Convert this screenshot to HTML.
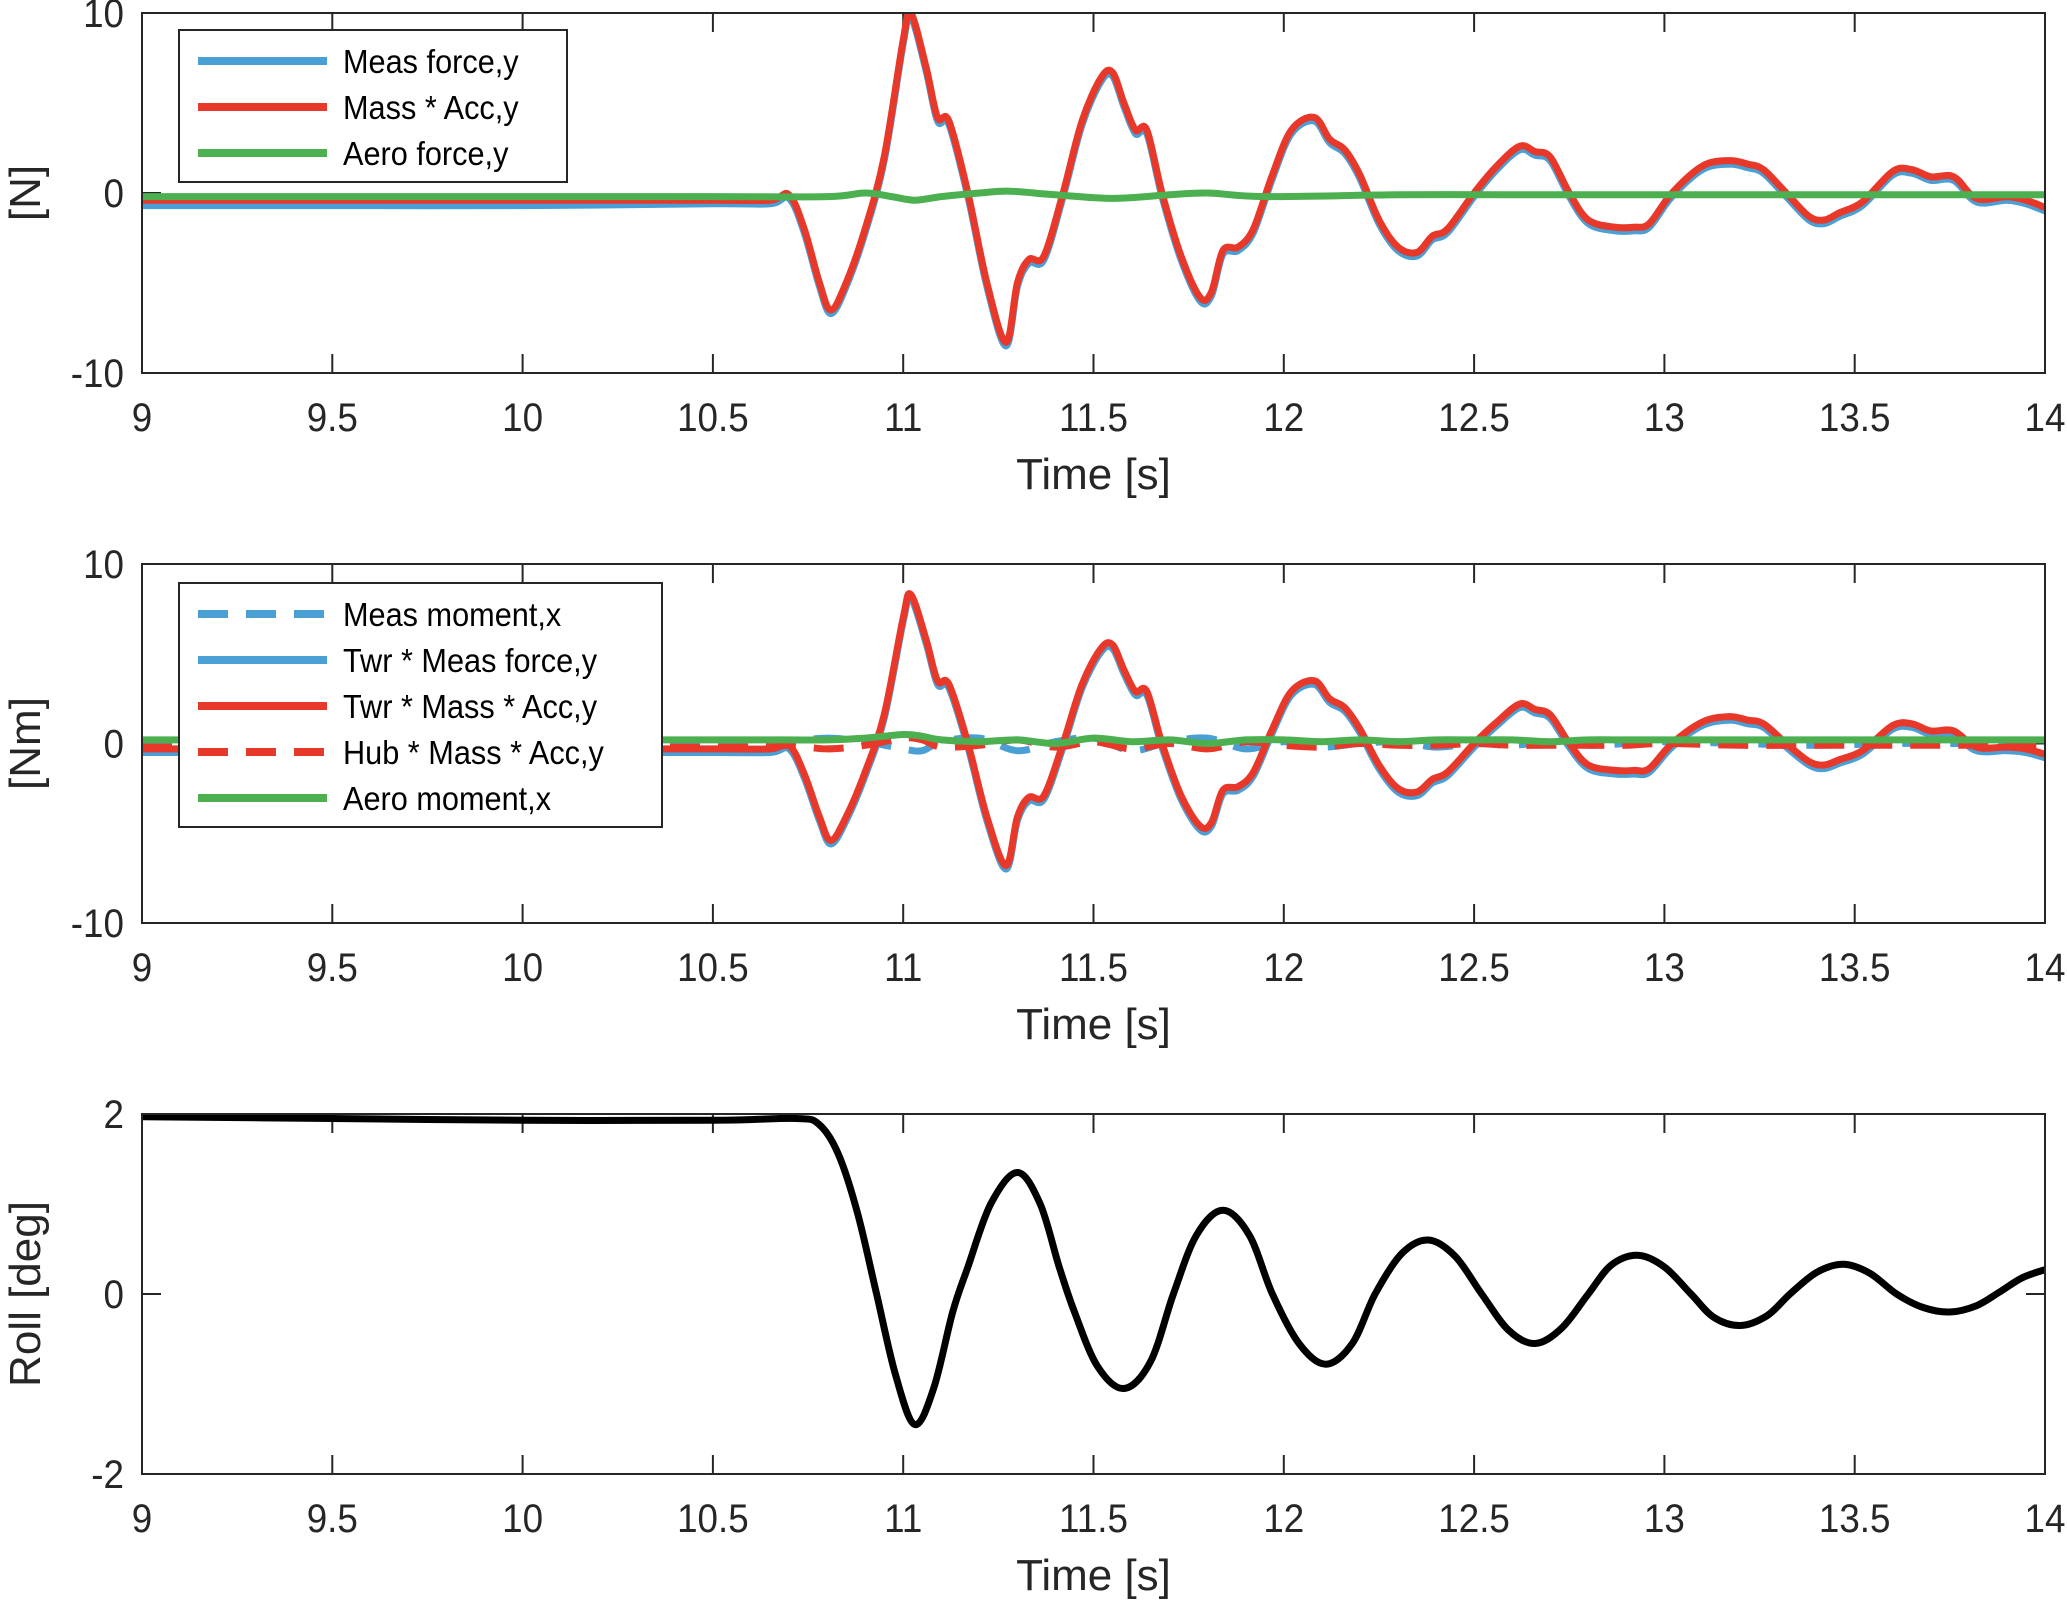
<!DOCTYPE html>
<html><head><meta charset="utf-8"><style>
html,body{margin:0;padding:0;background:#fff;}
svg{display:block;font-family:"Liberation Sans",Arial,sans-serif;}
</style></head><body>
<svg id="fig" width="2067" height="1605" viewBox="0 0 2067 1605" xmlns="http://www.w3.org/2000/svg"></svg>
<script>
// ---- data ----
const xTicks = [9, 9.5, 10, 10.5, 11, 11.5, 12, 12.5, 13, 13.5, 14];
const xTickLabels = ["9","9.5","10","10.5","11","11.5","12","12.5","13","13.5","14"];
const yTicks12 = [-10, 0, 10];
const yTicks3 = [-2, 0, 2];

const tForce = [9,9.5,10,10.5,10.65,10.7,10.74,10.78,10.81,10.85,10.9,10.95,11.0,11.02,11.06,11.09,11.12,11.17,11.22,11.27,11.3,11.33,11.37,11.42,11.47,11.52,11.55,11.58,11.61,11.64,11.68,11.73,11.78,11.81,11.84,11.88,11.92,11.97,12.02,12.08,12.12,12.16,12.2,12.25,12.3,12.35,12.39,12.43,12.5,12.56,12.62,12.66,12.7,12.75,12.8,12.87,12.92,12.96,13.02,13.1,13.17,13.22,13.26,13.32,13.38,13.42,13.46,13.52,13.6,13.65,13.7,13.76,13.82,13.9,13.95,14];
const massAccY = [-0.4,-0.4,-0.4,-0.4,-0.4,-0.1,-2,-5,-6.5,-5,-2,2,8.5,10,7,4.2,4,0,-5,-8.3,-5,-3.7,-3.5,0,4,6.4,6.7,5,3.5,3.5,0,-3.5,-5.8,-5.5,-3.2,-3,-2,1,3.5,4.2,3,2.4,1,-1.5,-3,-3.3,-2.4,-2,0,1.5,2.6,2.3,2,0,-1.5,-1.9,-1.9,-1.7,0,1.5,1.8,1.6,1.3,0,-1.3,-1.5,-1.1,-0.5,1.2,1.3,0.9,0.9,-0.3,-0.2,-0.4,-0.8];
const measForceY = [-0.7,-0.7,-0.7,-0.6,-0.6,-0.3,-2.2,-5.2,-6.7,-5.2,-2.2,1.8,8.3,9.8,6.8,4.0,3.8,-0.2,-5.2,-8.5,-5.2,-3.9,-3.7,-0.2,3.8,6.2,6.5,4.8,3.3,3.3,-0.2,-3.7,-6.0,-5.7,-3.4,-3.2,-2.2,0.8,3.3,4.0,2.8,2.2,0.8,-1.7,-3.2,-3.5,-2.6,-2.2,-0.2,1.3,2.4,2.1,1.8,-0.2,-1.7,-2.1,-2.1,-1.9,-0.2,1.3,1.6,1.4,1.1,-0.2,-1.5,-1.7,-1.3,-0.7,1.0,1.1,0.7,0.7,-0.5,-0.4,-0.6,-1.0];
const tAero = [9,9.5,10,10.5,10.8,10.9,10.97,11.03,11.1,11.2,11.28,11.4,11.55,11.7,11.8,11.95,12.3,12.6,13.0,13.5,14];
const aeroForceY = [-0.2,-0.2,-0.2,-0.2,-0.2,0.0,-0.2,-0.4,-0.2,0.0,0.1,-0.1,-0.3,-0.1,0.0,-0.2,-0.1,-0.1,-0.1,-0.1,-0.1];

const twrMassAccY = [-0.3,-0.3,-0.3,-0.3,-0.3,-0.1,-1.7,-4.1,-5.4,-4.1,-1.6,1.6,7.0,8.3,5.8,3.5,3.3,0,-4.1,-6.8,-4.1,-3.0,-2.9,0,3.3,5.3,5.5,4.1,2.9,2.9,0,-2.9,-4.6,-4.4,-2.6,-2.4,-1.6,0.8,2.9,3.5,2.5,2.0,0.8,-1.2,-2.5,-2.7,-2.0,-1.6,0,1.2,2.2,1.9,1.6,0,-1.2,-1.5,-1.5,-1.4,0,1.2,1.5,1.3,1.1,0,-1.0,-1.2,-0.9,-0.4,1.0,1.1,0.7,0.7,-0.2,-0.2,-0.3,-0.6];
const twrMeasForceY = [-0.5,-0.5,-0.5,-0.5,-0.5,-0.3,-1.9,-4.3,-5.6,-4.3,-1.8,1.4,6.8,8.1,5.6,3.3,3.1,-0.2,-4.3,-7.0,-4.3,-3.2,-3.1,-0.2,3.1,5.1,5.3,3.9,2.7,2.7,-0.2,-3.1,-4.8,-4.6,-2.8,-2.6,-1.8,0.6,2.7,3.3,2.3,1.8,0.6,-1.4,-2.7,-2.9,-2.2,-1.8,-0.2,1.0,2.0,1.7,1.4,-0.2,-1.4,-1.7,-1.7,-1.6,-0.2,1.0,1.3,1.1,0.9,-0.2,-1.2,-1.4,-1.1,-0.6,0.8,0.9,0.5,0.5,-0.4,-0.4,-0.5,-0.8];
const tMom = [9,10,10.6,10.7,10.8,10.9,11.0,11.05,11.1,11.2,11.3,11.4,11.5,11.6,11.7,11.8,11.9,12.0,12.1,12.2,12.3,12.4,12.5,12.6,12.7,12.8,12.9,13.0,13.2,13.4,13.6,13.8,14];
const hubMassAccY = [-0.2,-0.2,-0.2,-0.1,-0.3,-0.1,0.3,0.2,-0.2,-0.1,0.2,-0.2,0.1,-0.3,0.0,-0.3,0.1,-0.1,-0.2,0.0,-0.1,-0.1,0.0,-0.1,-0.1,-0.1,-0.1,0.0,-0.1,-0.1,-0.1,-0.1,-0.1];
const measMomentX = [0.0,0.0,0.0,0.1,0.3,0.1,-0.3,-0.4,0.1,0.3,-0.4,0.1,0.3,-0.4,0.1,0.3,-0.3,0.1,-0.2,0.0,0.1,-0.2,0.0,-0.1,0.1,-0.1,0.0,0.1,0.0,-0.1,0.0,0.0,0.0];
const aeroMomentX = [0.2,0.2,0.2,0.2,0.2,0.3,0.5,0.4,0.2,0.1,0.2,0.0,0.3,0.1,0.2,0.0,0.2,0.2,0.1,0.2,0.1,0.2,0.2,0.2,0.1,0.2,0.2,0.2,0.2,0.2,0.2,0.2,0.2];

const tRoll = [9,9.5,10,10.5,10.72,10.78,10.83,10.88,10.93,10.98,11.03,11.08,11.13,11.17,11.23,11.3,11.36,11.41,11.45,11.51,11.58,11.65,11.71,11.77,11.84,11.91,11.97,12.04,12.11,12.18,12.24,12.31,12.38,12.45,12.52,12.59,12.66,12.73,12.8,12.86,12.93,13.0,13.07,13.13,13.2,13.27,13.33,13.4,13.47,13.54,13.61,13.68,13.75,13.82,13.88,13.94,14];
const rollDeg = [1.97,1.95,1.93,1.93,1.95,1.88,1.55,0.9,0.0,-0.9,-1.45,-1.05,-0.2,0.3,1.0,1.35,1.0,0.3,-0.2,-0.8,-1.05,-0.75,0.0,0.65,0.93,0.65,0.0,-0.55,-0.78,-0.55,0.0,0.45,0.6,0.42,0.0,-0.4,-0.55,-0.38,0.0,0.32,0.43,0.3,0.0,-0.26,-0.35,-0.24,0.0,0.24,0.33,0.23,0.0,-0.15,-0.2,-0.13,0.02,0.18,0.27];

// ---- drawing ----
const NS = "http://www.w3.org/2000/svg";
const svg = document.getElementById("fig");
const L = 142, R = 2045;
function mk(tag, attrs, parent){ const e=document.createElementNS(NS,tag); for(const k in attrs) e.setAttribute(k,attrs[k]); (parent||svg).appendChild(e); return e; }
function xs(t){ return L + (t-9)/(14-9)*(R-L); }
function crPath(pts){
  let d = "M"+pts[0][0].toFixed(1)+","+pts[0][1].toFixed(1);
  for(let i=0;i<pts.length-1;i++){
    const p0=pts[Math.max(i-1,0)], p1=pts[i], p2=pts[i+1], p3=pts[Math.min(i+2,pts.length-1)];
    const c1=[p1[0]+(p2[0]-p0[0])/6, p1[1]+(p2[1]-p0[1])/6];
    const c2=[p2[0]-(p3[0]-p1[0])/6, p2[1]-(p3[1]-p1[1])/6];
    d+=" C"+c1[0].toFixed(1)+","+c1[1].toFixed(1)+" "+c2[0].toFixed(1)+","+c2[1].toFixed(1)+" "+p2[0].toFixed(1)+","+p2[1].toFixed(1);
  }
  return d;
}
const panels = [
  {top:13, bot:373, ymin:-10, ymax:10, yt:yTicks12, ylabel:"[N]", name:"force-panel"},
  {top:564, bot:923, ymin:-10, ymax:10, yt:yTicks12, ylabel:"[Nm]", name:"moment-panel"},
  {top:1114, bot:1474, ymin:-2, ymax:2, yt:yTicks3, ylabel:"Roll [deg]", name:"roll-panel"}
];
const BLUE="#4a9fd4", RED="#e8382a", GREEN="#4caf50";
function drawSeries(p, g, ts, vs, color, dash, name){
  const ysf = v => p.bot - (v-p.ymin)/(p.ymax-p.ymin)*(p.bot-p.top);
  const pts = ts.map((t,i)=>[xs(t), ysf(vs[i])]);
  const path = mk("path",{d:crPath(pts),fill:"none",stroke:color,"stroke-width":7,"stroke-linejoin":"round","stroke-dasharray":dash||"none"},g);
  
  
}
panels.forEach((p,pi)=>{
  const g = mk("g",{});
  
  
  const clipId="clip"+pi;
  const cp = mk("clipPath",{id:clipId},g); mk("rect",{x:L,y:p.top,width:R-L,height:p.bot-p.top},cp);
  const ysf = v => p.bot - (v-p.ymin)/(p.ymax-p.ymin)*(p.bot-p.top);
  xTicks.forEach((t,i)=>{
    const x=xs(t);
    mk("line",{x1:x,y1:p.bot,x2:x,y2:p.bot-19,stroke:"#262626","stroke-width":2},g);
    mk("line",{x1:x,y1:p.top,x2:x,y2:p.top+19,stroke:"#262626","stroke-width":2},g);
    const tx=mk("text",{x:x,y:p.bot+58,"font-size":40,"text-anchor":"middle",fill:"#262626",transform:"translate("+x+" 0) scale(0.92 1) translate("+(-x)+" 0)"},g);
    tx.textContent=xTickLabels[i];
    
    
  });
  p.yt.forEach(v=>{
    const y=ysf(v);
    mk("line",{x1:L,y1:y,x2:L+19,y2:y,stroke:"#262626","stroke-width":2},g);
    mk("line",{x1:R,y1:y,x2:R-19,y2:y,stroke:"#262626","stroke-width":2},g);
    const tx=mk("text",{x:124,y:y+14,"font-size":40,"text-anchor":"end",fill:"#262626",transform:"translate(124 0) scale(0.92 1) translate(-124 0)"},g);
    tx.textContent=String(v);
    
    
  });
  const xl=mk("text",{x:(L+R)/2,y:p.bot+116,"font-size":44,"text-anchor":"middle",fill:"#262626"},g);
  xl.textContent="Time [s]";
  
  
  const cy=(p.top+p.bot)/2;
  const yl=mk("text",{x:40,y:cy,"font-size":44,"text-anchor":"middle",fill:"#262626",transform:"rotate(-90 40 "+cy+")"},g);
  yl.textContent=p.ylabel;
  
  
  const sg = mk("g",{"clip-path":"url(#"+clipId+")"},g);
  if(pi===0){
    drawSeries(p,sg,tForce,measForceY,BLUE,null,"meas-force-line");
    drawSeries(p,sg,tForce,massAccY,RED,null,"mass-acc-line");
    drawSeries(p,sg,tAero,aeroForceY,GREEN,null,"aero-force-line");
  } else if(pi===1){
    drawSeries(p,sg,tMom,measMomentX,BLUE,"30,18","meas-moment-line");
    drawSeries(p,sg,tForce,twrMeasForceY,BLUE,null,"twr-meas-force-line");
    drawSeries(p,sg,tForce,twrMassAccY,RED,null,"twr-mass-acc-line");
    drawSeries(p,sg,tMom,hubMassAccY,RED,"30,18","hub-mass-acc-line");
    drawSeries(p,sg,tMom,aeroMomentX,GREEN,null,"aero-moment-line");
  } else {
    drawSeries(p,sg,tRoll,rollDeg,"#000",null,"roll-line");
  }
  mk("rect",{x:L,y:p.top,width:R-L,height:p.bot-p.top,fill:"none",stroke:"#262626","stroke-width":2},g);
});
function legend(x,y,w,h,entries,name){
  const g=mk("g",{});
  
  
  mk("rect",{x:x,y:y,width:w,height:h,fill:"#fff",stroke:"#262626","stroke-width":2},g);
  entries.forEach((e,i)=>{
    const cy=y+31+i*46;
    mk("line",{x1:x+19,y1:cy,x2:x+148,y2:cy,stroke:e[1],"stroke-width":8,"stroke-dasharray":e[2]||"none"},g);
    const tx=x+164;
    const t=mk("text",{x:tx,y:cy+12,"font-size":33,fill:"#000",transform:"translate("+tx+" 0) scale(0.93 1) translate("+(-tx)+" 0)"},g);
    t.textContent=e[0];
    
    
  });
}
legend(179,30,388,152,[["Meas force,y",BLUE],["Mass * Acc,y",RED],["Aero force,y",GREEN]],"legend-force");
legend(179,583,483,244,[["Meas moment,x",BLUE,"30,18"],["Twr * Meas force,y",BLUE],["Twr * Mass * Acc,y",RED],["Hub * Mass * Acc,y",RED,"30,18"],["Aero moment,x",GREEN]],"legend-moment");
</script>
</body></html>
